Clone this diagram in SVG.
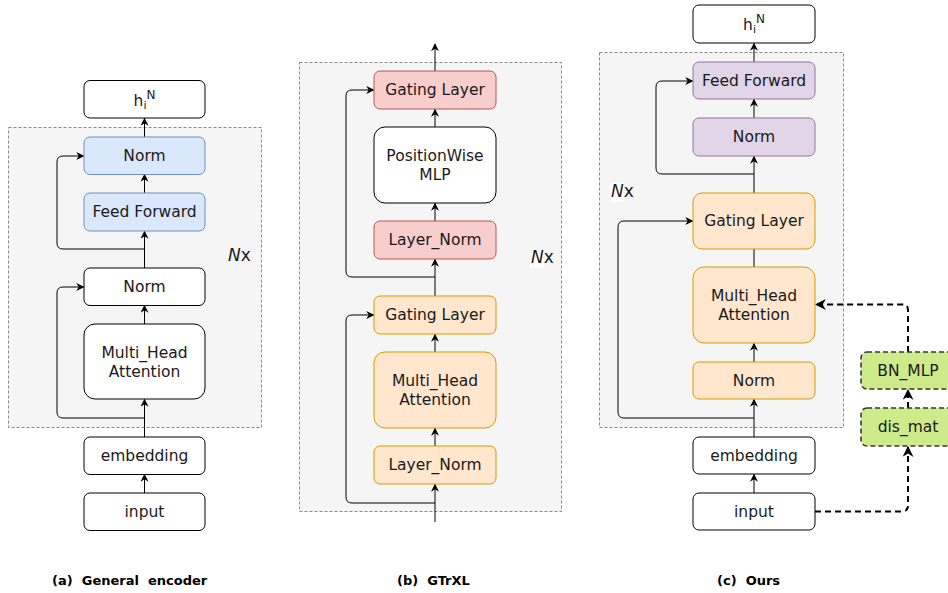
<svg xmlns="http://www.w3.org/2000/svg" width="948" height="593" viewBox="0 0 948 593">
<style>
text{font-family:"DejaVu Sans","Noto Sans",sans-serif;font-size:15.5px;fill:#1a1a1a;text-anchor:middle}
.box{stroke-width:1}
.w{fill:#ffffff;stroke:#000000}
.blue{fill:#dae8fc;stroke:#6c8ebf}
.red{fill:#f8cecc;stroke:#b85450}
.org{fill:#ffe6cc;stroke:#d79b00}
.pur{fill:#e1d5e7;stroke:#9673a6}
.grn{fill:#cdeb8b;stroke:#36393d;stroke-width:1.6;stroke-dasharray:5 3}
.cont{fill:#f5f5f5;stroke:#8a8a8a;stroke-dasharray:3 2}
.ln{fill:none;stroke:#000;stroke-width:1}
.dl{fill:none;stroke:#000;stroke-width:2;stroke-dasharray:6 4}
.nx{font-size:17px;text-anchor:start}
.cap{font-size:13px;font-weight:bold;text-anchor:start;fill:#000}
</style>
<defs>
<marker id="ar" viewBox="0 0 10 10" refX="9" refY="5" markerWidth="8" markerHeight="8" markerUnits="userSpaceOnUse" orient="auto">
<path d="M0,0 L10,5 L0,10 L3,5 z" fill="#000"/>
</marker>
<marker id="ard" viewBox="0 0 10 10" refX="9" refY="5" markerWidth="11" markerHeight="11" markerUnits="userSpaceOnUse" orient="auto">
<path d="M0,0 L10,5 L0,10 L3,5 z" fill="#000"/>
</marker>
</defs>

<!-- containers -->
<g id="containers">
<rect class="cont" x="8.5" y="127.5" width="253" height="300"/>
<rect class="cont" x="299.5" y="62.5" width="262" height="449"/>
<rect class="cont" x="599.5" y="52.5" width="244" height="375"/>
<rect x="530" y="252" width="14" height="16" fill="#ffffff"/>
<rect x="610" y="183" width="14" height="19" fill="#ffffff"/>
</g>

<!-- connectors -->
<g id="connectors">
<!-- (a) -->
<line class="ln" x1="144.5" y1="493" x2="144.5" y2="474.5" marker-end="url(#ar)"/>
<line class="ln" x1="144.5" y1="437" x2="144.5" y2="399.5" marker-end="url(#ar)"/>
<path class="ln" d="M144.5,418 H63 Q57,418 57,412 V293 Q57,287 63,287 H83.5" marker-end="url(#ar)"/>
<line class="ln" x1="144.5" y1="324" x2="144.5" y2="305.5" marker-end="url(#ar)"/>
<line class="ln" x1="144.5" y1="268" x2="144.5" y2="231.5" marker-end="url(#ar)"/>
<path class="ln" d="M144.5,249 H63 Q57,249 57,243 V162 Q57,156 63,156 H83.5" marker-end="url(#ar)"/>
<line class="ln" x1="144.5" y1="193" x2="144.5" y2="174.5" marker-end="url(#ar)"/>
<line class="ln" x1="144.5" y1="137" x2="144.5" y2="118.5" marker-end="url(#ar)"/>
<!-- (b) -->
<line class="ln" x1="435" y1="522" x2="435" y2="484.5" marker-end="url(#ar)"/>
<path class="ln" d="M435,503 H352 Q346,503 346,497 V321 Q346,315 352,315 H373.5" marker-end="url(#ar)"/>
<line class="ln" x1="435" y1="446" x2="435" y2="428.5" marker-end="url(#ar)"/>
<line class="ln" x1="435" y1="352" x2="435" y2="334.5" marker-end="url(#ar)"/>
<line class="ln" x1="435" y1="296" x2="435" y2="259.5" marker-end="url(#ar)"/>
<path class="ln" d="M435,277 H352 Q346,277 346,271 V96 Q346,90 352,90 H373.5" marker-end="url(#ar)"/>
<line class="ln" x1="435" y1="221" x2="435" y2="203.5" marker-end="url(#ar)"/>
<line class="ln" x1="435" y1="127" x2="435" y2="109.5" marker-end="url(#ar)"/>
<line class="ln" x1="435" y1="71" x2="435" y2="44" marker-end="url(#ar)"/>
<!-- (c) -->
<line class="ln" x1="754" y1="493" x2="754" y2="474.5" marker-end="url(#ar)"/>
<line class="ln" x1="754" y1="437" x2="754" y2="399.5" marker-end="url(#ar)"/>
<path class="ln" d="M754,418 H624 Q618,418 618,412 V227 Q618,221 624,221 H692.5" marker-end="url(#ar)"/>
<line class="ln" x1="754" y1="362" x2="754" y2="343.5" marker-end="url(#ar)"/>
<line class="ln" x1="754" y1="267" x2="754" y2="249"/>
<line class="ln" x1="754" y1="193" x2="754" y2="156.5" marker-end="url(#ar)"/>
<path class="ln" d="M754,174 H662 Q656,174 656,168 V87 Q656,81 662,81 H692.5" marker-end="url(#ar)"/>
<line class="ln" x1="754" y1="118" x2="754" y2="99.5" marker-end="url(#ar)"/>
<line class="ln" x1="754" y1="62" x2="754" y2="43.5" marker-end="url(#ar)"/>
<path class="dl" d="M815,511.5 H902 Q908,511.5 908,505.5 V447" marker-end="url(#ard)"/>
<line class="dl" x1="908" y1="408" x2="908" y2="390" marker-end="url(#ard)"/>
<path class="dl" d="M908,352 V310 Q908,304.5 902,304.5 H816" marker-end="url(#ard)"/>
</g>

<!-- (a) nodes -->
<g id="a-h"><rect class="box w" x="84" y="80.5" width="121" height="37.5" rx="6"/>
<text x="144.5" y="106">h<tspan font-size="11px" dy="3">i</tspan><tspan font-size="12px" dy="-10">N</tspan></text></g>
<g id="a-norm2"><rect class="box blue" x="84" y="137" width="121" height="37.5" rx="6"/><text x="144.5" y="161">Norm</text></g>
<g id="a-ff"><rect class="box blue" x="84" y="193" width="121" height="38" rx="6"/><text x="144.5" y="217">Feed Forward</text></g>
<g id="a-norm1"><rect class="box w" x="84" y="268" width="121" height="37.5" rx="6"/><text x="144.5" y="292">Norm</text></g>
<g id="a-mha"><rect class="box w" x="84" y="324" width="121" height="75" rx="11"/><text x="144.5" y="358">Multi_Head</text><text x="144.5" y="377">Attention</text></g>
<g id="a-emb"><rect class="box w" x="84" y="437" width="121" height="37.5" rx="6"/><text x="144.5" y="461">embedding</text></g>
<g id="a-input"><rect class="box w" x="84" y="493" width="121" height="37.5" rx="6"/><text x="144.5" y="517">input</text></g>
<g id="a-nx"><text class="nx" x="228" y="261"><tspan font-style="italic">N</tspan>x</text></g>

<!-- (b) nodes -->
<g id="b-gate2"><rect class="box red" x="374" y="71" width="122" height="38" rx="6"/><text x="435" y="95">Gating Layer</text></g>
<g id="b-mlp"><rect class="box w" x="374" y="127" width="122" height="76" rx="11"/><text x="435" y="161">PositionWise</text><text x="435" y="180">MLP</text></g>
<g id="b-ln2"><rect class="box red" x="374" y="221" width="122" height="38" rx="6"/><text x="435" y="245">Layer_Norm</text></g>
<g id="b-gate1"><rect class="box org" x="374" y="296" width="122" height="38" rx="6"/><text x="435" y="320">Gating Layer</text></g>
<g id="b-mha"><rect class="box org" x="374" y="352" width="122" height="76" rx="11"/><text x="435" y="386">Multi_Head</text><text x="435" y="405">Attention</text></g>
<g id="b-ln1"><rect class="box org" x="374" y="446" width="122" height="38" rx="6"/><text x="435" y="470">Layer_Norm</text></g>
<g id="b-nx"><text class="nx" x="531" y="263"><tspan font-style="italic">N</tspan>x</text></g>

<!-- (c) nodes -->
<g id="c-h"><rect class="box w" x="693" y="5" width="122" height="38" rx="6"/>
<text x="754" y="30">h<tspan font-size="11px" dy="3">i</tspan><tspan font-size="12px" dy="-10">N</tspan></text></g>
<g id="c-ff"><rect class="box pur" x="693" y="62" width="122" height="37" rx="6"/><text x="754" y="86">Feed Forward</text></g>
<g id="c-norm2"><rect class="box pur" x="693" y="118" width="122" height="38" rx="6"/><text x="754" y="142">Norm</text></g>
<g id="c-gate"><rect class="box org" x="693" y="193" width="122" height="56" rx="9"/><text x="754" y="226">Gating Layer</text></g>
<g id="c-mha"><rect class="box org" x="693" y="267" width="122" height="76" rx="11"/><text x="754" y="301">Multi_Head</text><text x="754" y="320">Attention</text></g>
<g id="c-norm1"><rect class="box org" x="693" y="362" width="122" height="37" rx="6"/><text x="754" y="386">Norm</text></g>
<g id="c-emb"><rect class="box w" x="693" y="437" width="122" height="37" rx="6"/><text x="754" y="461">embedding</text></g>
<g id="c-input"><rect class="box w" x="693" y="493" width="122" height="37" rx="6"/><text x="754" y="517">input</text></g>
<g id="c-bnmlp"><rect class="grn" x="861" y="352" width="94" height="37" rx="6"/><text x="908" y="376">BN_MLP</text></g>
<g id="c-dismat"><rect class="grn" x="861" y="408" width="94" height="38" rx="6"/><text x="908" y="432">dis_mat</text></g>
<g id="c-nx"><text class="nx" x="611" y="197"><tspan font-style="italic">N</tspan>x</text></g>

<!-- captions -->
<g id="captions">
<text class="cap" x="52" y="585" xml:space="preserve">(a)  General  encoder</text>
<text class="cap" x="397" y="585" xml:space="preserve">(b)  GTrXL</text>
<text class="cap" x="717" y="585" xml:space="preserve">(c)  Ours</text>
</g>
</svg>
